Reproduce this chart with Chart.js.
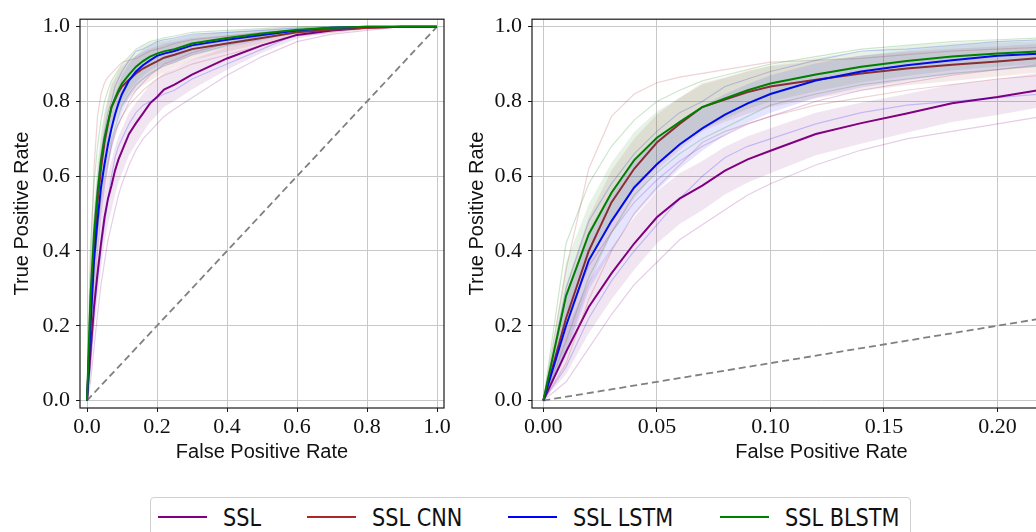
<!DOCTYPE html>
<html lang="en">
<head>
  <meta charset="UTF-8">
  <title>ROC curves - SSL models</title>
  <script src="https://cdn.jsdelivr.net/npm/chart.js"></script>
  <style>
    html, body {
      margin: 0;
      padding: 0;
      background: #fff;
      width: 1036px;
      height: 532px;
      overflow: hidden;
    }
    canvas {
      position: absolute;
      top: 0;
    }
    #rocFull { left: 0; }
    #rocZoom { left: 452px; }
    /* legend box under both plots */
    .legend {
      position: absolute;
      left: 150px;
      top: 497px;
      width: 761px;
      height: 40px;
      box-sizing: border-box;
      border: 1px solid #d0d0d0;
      border-radius: 4px;
      display: flex;
      align-items: center;
      padding-left: 7px;
      font-family: "DejaVu Sans", sans-serif;
      font-size: 24.5px;
      color: #111;
      white-space: nowrap;
    }
    .legend .item {
      display: flex;
      align-items: center;
      margin-right: 46px;
    }
    .legend .swatch {
      width: 49px;
      height: 2px;
      margin-right: 16px;
    }
    .legend .textbox {
      display: inline-block;
    }
    .legend .text {
      display: inline-block;
      transform: scaleX(0.85);
      transform-origin: 0 50%;
    }
  </style>
</head>
<body>

<canvas id="rocFull" width="460" height="480"></canvas>
<canvas id="rocZoom" width="683" height="480"></canvas>
<div class="legend" id="legend"></div>

<script>
  // false positive rate grid shared by every curve
  const fpr = [0, 0.01, 0.02, 0.03, 0.04, 0.05, 0.06, 0.07, 0.08, 0.09, 0.10, 0.12, 0.14,
               0.16, 0.18, 0.20, 0.22, 0.25, 0.3, 0.4, 0.5, 0.6, 0.7, 0.8, 0.9, 1.0];

  // SSL
  const meanSSL  = [0, .13, .25, .34, .42, .49, .54, .575, .615, .645, .668, .713, .742, .768, .795, .812, .832, .845, .872, .915, .95, .978, .99, .997, 1, 1];
  const upperSSL = [0, .19, .32, .41, .49, .56, .608, .641, .679, .707, .728, .77, .797, .82, .845, .86, .878, .889, .912, .945, .97, .988, .995, .999, 1, 1];
  const lowerSSL = [0, .07, .18, .27, .35, .42, .472, .509, .551, .583, .608, .656, .687, .716, .745, .764, .786, .801, .832, .885, .93, .968, .985, .995, 1, 1];
  const foldsSSL = [
    [0, .22, .36, .45, .53, .59, .64, .68, .71, .74, .76, .80, .83, .85, .87, .885, .90, .91, .93, .955, .975, .99, .995, 1, 1, 1],
    [0, .05, .14, .23, .31, .37, .43, .47, .51, .55, .58, .63, .67, .70, .72, .74, .76, .78, .81, .87, .92, .96, .98, .99, 1, 1]
  ];

  // SSL CNN
  const meanCNN  = [0, .22, .40, .53, .62, .69, .74, .785, .805, .825, .84, .858, .875, .888, .898, .907, .917, .925, .94, .955, .97, .985, .992, .997, 1, 1];
  const upperCNN = [0, .31, .49, .615, .70, .765, .81, .85, .865, .883, .895, .908, .922, .933, .941, .947, .955, .96, .97, .977, .985, .993, .996, .999, 1, 1];
  const lowerCNN = [0, .13, .31, .445, .54, .615, .67, .72, .745, .767, .785, .808, .828, .843, .855, .867, .879, .89, .91, .933, .955, .977, .988, .995, 1, 1];
  const foldsCNN = [
    [0, .35, .62, .76, .82, .85, .865, .875, .885, .895, .905, .91, .915, .925, .935, .94, .945, .955, .965, .975, .985, .99, .995, 1, 1, 1],
    [0, .10, .27, .40, .50, .57, .63, .69, .72, .74, .76, .79, .81, .83, .845, .86, .87, .88, .90, .925, .95, .975, .985, .995, 1, 1]
  ];

  // SSL LSTM
  const meanLSTM  = [0, .20, .375, .48, .57, .632, .685, .728, .765, .795, .82, .856, .88, .897, .91, .922, .928, .935, .95, .965, .978, .99, .997, 1, 1, 1];
  const upperLSTM = [0, .28, .455, .56, .645, .702, .75, .788, .82, .847, .87, .902, .923, .937, .948, .958, .962, .967, .978, .985, .992, .997, 1, 1, 1, 1];
  const lowerLSTM = [0, .12, .295, .40, .495, .562, .62, .668, .71, .743, .77, .81, .837, .857, .872, .886, .894, .903, .922, .945, .964, .983, .994, 1, 1, 1];
  const foldsLSTM = [
    [0, .30, .48, .58, .66, .72, .77, .80, .84, .86, .88, .91, .935, .94, .95, .96, .965, .97, .98, .985, .99, .997, 1, 1, 1, 1],
    [0, .09, .22, .32, .40, .47, .54, .60, .65, .68, .70, .74, .77, .79, .80, .81, .82, .83, .86, .90, .94, .98, .99, 1, 1, 1]
  ];

  // SSL BLSTM
  const meanBLSTM  = [0, .28, .445, .556, .643, .703, .745, .785, .808, .83, .848, .872, .893, .908, .92, .928, .934, .94, .955, .97, .982, .992, .997, 1, 1, 1];
  const upperBLSTM = [0, .37, .525, .636, .718, .773, .81, .845, .863, .88, .896, .917, .935, .948, .957, .963, .967, .97, .98, .988, .994, .998, 1, 1, 1, 1];
  const lowerBLSTM = [0, .19, .365, .476, .568, .633, .68, .725, .753, .78, .80, .827, .851, .868, .883, .893, .901, .91, .93, .952, .97, .986, .994, 1, 1, 1];
  const foldsBLSTM = [
    [0, .42, .58, .68, .75, .80, .83, .855, .87, .885, .90, .92, .94, .95, .96, .965, .97, .975, .985, .99, .995, 1, 1, 1, 1, 1],
    [0, .16, .33, .45, .55, .61, .66, .70, .73, .76, .79, .82, .845, .86, .875, .885, .895, .905, .925, .95, .97, .985, .995, 1, 1, 1]
  ];

  // chance line
  const chanceX = [0, 1];
  const chanceY = [0, 1];

  // ticks
  const yTicks = [0, 0.2, 0.4, 0.6, 0.8, 1.0];
  const yTickLabels = ['0.0', '0.2', '0.4', '0.6', '0.8', '1.0'];
  const xTicksFull = [0, 0.2, 0.4, 0.6, 0.8, 1.0];
  const xTickLabelsFull = ['0.0', '0.2', '0.4', '0.6', '0.8', '1.0'];
  const xTicksZoom = [0, 0.05, 0.10, 0.15, 0.20, 0.25];
  const xTickLabelsZoom = ['0.00', '0.05', '0.10', '0.15', '0.20', '0.25'];

  const models = [
    { label: 'SSL',       color: [128, 0, 128], mean: meanSSL,   upper: upperSSL,   lower: lowerSSL,   folds: foldsSSL },
    { label: 'SSL CNN',   color: [170, 40, 40], mean: meanCNN,   upper: upperCNN,   lower: lowerCNN,   folds: foldsCNN },
    { label: 'SSL LSTM',  color: [0, 0, 255],   mean: meanLSTM,  upper: upperLSTM,  lower: lowerLSTM,  folds: foldsLSTM },
    { label: 'SSL BLSTM', color: [0, 128, 0],   mean: meanBLSTM, upper: upperBLSTM, lower: lowerBLSTM, folds: foldsBLSTM }
  ];

  function rgba(c, a) {
    return `rgba(${c[0]}, ${c[1]}, ${c[2]}, ${a})`;
  }

  function points(xs, ys) {
    return xs.map((x, i) => ({ x: x, y: ys[i] }));
  }

  function buildDatasets() {
    const sets = [];
    // later datasets should be painted on top, so give them a lower order
    const add = ds => {
      ds.order = 1000 - sets.length;
      ds.pointRadius = 0;
      ds.tension = 0;
      sets.push(ds);
    };

    add({ data: points(chanceX, chanceY), borderColor: '#808080', borderDash: [7, 4], borderWidth: 1.8, fill: false });

    models.forEach(m => {
      m.folds.forEach(f => {
        add({ data: points(fpr, f), borderColor: rgba(m.color, 0.2), borderWidth: 1.2, fill: false });
      });
      add({ data: points(fpr, m.lower), borderColor: 'rgba(0,0,0,0)', borderWidth: 0, fill: false });
      add({ data: points(fpr, m.upper), borderColor: 'rgba(0,0,0,0)', borderWidth: 0,
            backgroundColor: rgba(m.color, 0.1), fill: '-1' });
      add({ data: points(fpr, m.mean), borderColor: rgba(m.color, 1), borderWidth: 2, fill: false });
    });
    return sets;
  }

  // box around the plotting area, like matplotlib spines
  const framePlugin = {
    id: 'frame',
    afterDatasetsDraw(chart) {
      const a = chart.chartArea;
      const ctx = chart.ctx;
      ctx.save();
      ctx.strokeStyle = '#1a1a1a';
      ctx.lineWidth = 1.2;
      ctx.strokeRect(a.left, a.top, a.right - a.left, a.bottom - a.top);
      ctx.restore();
    }
  };

  const tickFont = { family: '"Liberation Serif", "DejaVu Serif", serif', size: 22 };
  const titleFont = { family: '"Liberation Sans", Arial, sans-serif', size: 20 };

  function makeChart(canvasId, xMin, xMax, xTicks, xLabels, yTitlePad, padRight) {
    const ctx = document.getElementById(canvasId).getContext('2d');
    return new Chart(ctx, {
      type: 'line',
      data: { datasets: buildDatasets() },
      plugins: [framePlugin],
      options: {
        responsive: false,
        animation: false,
        devicePixelRatio: 1,
        layout: { padding: { top: 17, right: padRight, bottom: 0, left: 0 } },
        plugins: {
          legend: { display: false },
          tooltip: { enabled: false }
        },
        scales: {
          x: {
            type: 'linear',
            min: xMin,
            max: xMax,
            afterBuildTicks: s => { s.ticks = xTicks.map(v => ({ value: v })); },
            afterFit: s => { s.height = 72; },
            border: { display: false },
            grid: { color: '#c8c8c8', lineWidth: 1, tickColor: '#1a1a1a', tickLength: 4 },
            ticks: {
              autoSkip: false,
              maxRotation: 0,
              padding: 2,
              color: '#111',
              font: tickFont,
              callback: (v, i) => xLabels[i]
            },
            title: {
              display: true,
              text: 'False Positive Rate',
              color: '#111',
              font: titleFont,
              padding: { top: 0, bottom: 16 }
            }
          },
          y: {
            type: 'linear',
            min: -0.02,
            max: 1.02,
            afterBuildTicks: s => { s.ticks = yTicks.map(v => ({ value: v })); },
            afterFit: s => { s.width = 80; },
            border: { display: false },
            grid: { color: '#c8c8c8', lineWidth: 1, tickColor: '#1a1a1a', tickLength: 4 },
            ticks: {
              autoSkip: false,
              padding: 6,
              color: '#111',
              font: tickFont,
              callback: (v, i) => yTickLabels[i]
            },
            title: {
              display: true,
              text: 'True Positive Rate',
              color: '#111',
              font: titleFont,
              padding: { top: yTitlePad, bottom: 0 }
            }
          }
        }
      }
    });
  }

  makeChart('rocFull', -0.02, 1.02, xTicksFull, xTickLabelsFull, 10, 16);
  makeChart('rocZoom', -0.005, 0.25, xTicksZoom, xTickLabelsZoom, 13, 24);

  // legend (html, one row, narrow text like the original)
  const legend = document.getElementById('legend');
  models.forEach(m => {
    const item = document.createElement('div');
    item.className = 'item';
    item.innerHTML = `<span class="swatch" style="background:${rgba(m.color, 1)}"></span>` +
                     `<span class="textbox"><span class="text">${m.label}</span></span>`;
    legend.appendChild(item);
    const text = item.querySelector('.text');
    item.querySelector('.textbox').style.width = text.getBoundingClientRect().width + 'px';
  });
</script>

</body>
</html>
